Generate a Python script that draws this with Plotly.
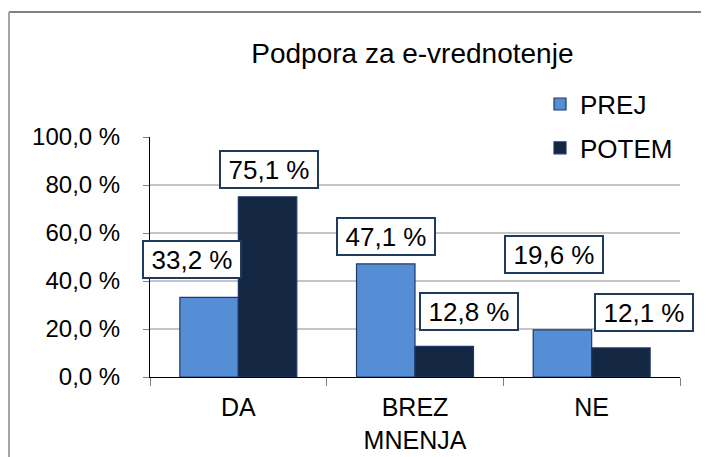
import plotly.graph_objects as go

# ---- data ----
categories = ["DA", "BREZ<br>MNENJA", "NE"]
prej = [33.2, 47.1, 19.6]
potem = [75.1, 12.8, 12.1]
prej_labels = ["33,2 %", "47,1 %", "19,6 %"]
potem_labels = ["75,1 %", "12,8 %", "12,1 %"]
y_tickvals = [0, 20, 40, 60, 80, 100]
y_ticktext = ["0,0 %", "20,0 %", "40,0 %", "60,0 %", "80,0 %", "100,0 %"]
grid_vals = [20, 40, 60, 80]

# ---- styling / layout ----
OFF = 8  # page body margin compensation
W, H = 709 - OFF, 457 - OFF
ML, MT = 150 - OFF, 136.5 - OFF
plot_w, plot_h = 530, 241
MR = W - ML - plot_w
MB = H - MT - plot_h
BARGAP = 0.338
cat_px = plot_w / len(categories)
bar_w = cat_px * (1 - BARGAP) / 2
bar_off = bar_w / 2

# manual label-box pixel shifts relative to bar top (dx, dy above)
prej_shift = [(-17, 38), (0, 27), (-8, 75)]
potem_shift = [(1, 27), (25, 35), (23, 35)]

C_PREJ = "#558ED5"
C_POTEM = "#132743"
C_EDGE = "#1F3864"
FONT = "Liberation Sans, Arial, sans-serif"

fig = go.Figure()
fig.add_trace(go.Bar(name="PREJ", x=categories, y=prej, marker=dict(color=C_PREJ, line=dict(color=C_EDGE, width=1.2)),
                     legendgroup="a"))
fig.add_trace(go.Bar(name="POTEM", x=categories, y=potem, marker=dict(color=C_POTEM, line=dict(color=C_EDGE, width=1.2)),
                     legendgroup="b"))

annotations = []
for vals, labs, shifts, sign in ((prej, prej_labels, prej_shift, -1), (potem, potem_labels, potem_shift, 1)):
    for cat, v, lab, (dx, dy) in zip(categories, vals, labs, shifts):
        annotations.append(dict(
            x=cat, y=v, xref="x", yref="y", text=lab, showarrow=False,
            xshift=sign * bar_off + dx, yshift=dy, xanchor="center", yanchor="middle",
            font=dict(family=FONT, size=26, color="#000000"),
            bgcolor="#FFFFFF", bordercolor="#1F3A5A", borderwidth=2, borderpad=0,
            width=96, height=35,
        ))

shapes = []
for g in grid_vals:
    shapes.append(dict(type="line", xref="paper", yref="y", x0=0, x1=1, y0=g, y1=g,
                       line=dict(color="#8C8C8C", width=1), layer="below"))
# outer chart frame (top and left edges visible)
fx0 = (1 - ML) / plot_w
fy_top = (H - MB - 3) / plot_h
fy_bot = (H - MB - 470) / plot_h
fx1 = (730 - ML) / plot_w
shapes.append(dict(type="line", xref="paper", yref="paper", x0=fx0, x1=fx1, y0=fy_top, y1=fy_top,
                   line=dict(color="#595959", width=1.5)))
shapes.append(dict(type="line", xref="paper", yref="paper", x0=fx0, x1=fx0, y0=fy_bot, y1=fy_top,
                   line=dict(color="#A6A6A6", width=2)))

fig.update_layout(
    width=W, height=H,
    margin=dict(l=ML, r=MR, t=MT, b=MB, pad=0, autoexpand=False),
    paper_bgcolor="#FFFFFF", plot_bgcolor="#FFFFFF",
    barmode="group", bargap=BARGAP, bargroupgap=0,
    font=dict(family=FONT, color="#000000"),
    title=dict(text="Podpora za e-vrednotenje", font=dict(family=FONT, size=28, color="#000000"),
               x=0.495, xref="paper", xanchor="center", y=1 - 45 / H, yref="container", yanchor="middle"),
    legend=dict(x=(540 - 150) / plot_w, y=1.235, xanchor="left", yanchor="top",
                font=dict(family=FONT, size=26, color="#000000"),
                traceorder="grouped", tracegroupgap=7, itemwidth=30,
                bgcolor="rgba(0,0,0,0)"),
    annotations=annotations,
    shapes=shapes,
    showlegend=True,
)
fig.update_xaxes(range=[-0.5, len(categories) - 0.5], showline=True, linecolor="#000000", linewidth=1,
                 showgrid=False, ticks="outside", tickson="boundaries", ticklen=8, tickcolor="#808080",
                 ticklabelstandoff=8, automargin=False,
                 tickfont=dict(family=FONT, size=25, color="#000000"), fixedrange=True)
fig.update_yaxes(range=[0, 100], tickvals=y_tickvals, ticktext=y_ticktext, showline=True,
                 linecolor="#000000", linewidth=1, showgrid=False, zeroline=False,
                 ticks="outside", ticklen=6, tickcolor="#808080", ticklabelstandoff=18,
                 automargin=False,
                 tickfont=dict(family=FONT, size=24, color="#000000"), fixedrange=True)

fig.write_html("out.html")
